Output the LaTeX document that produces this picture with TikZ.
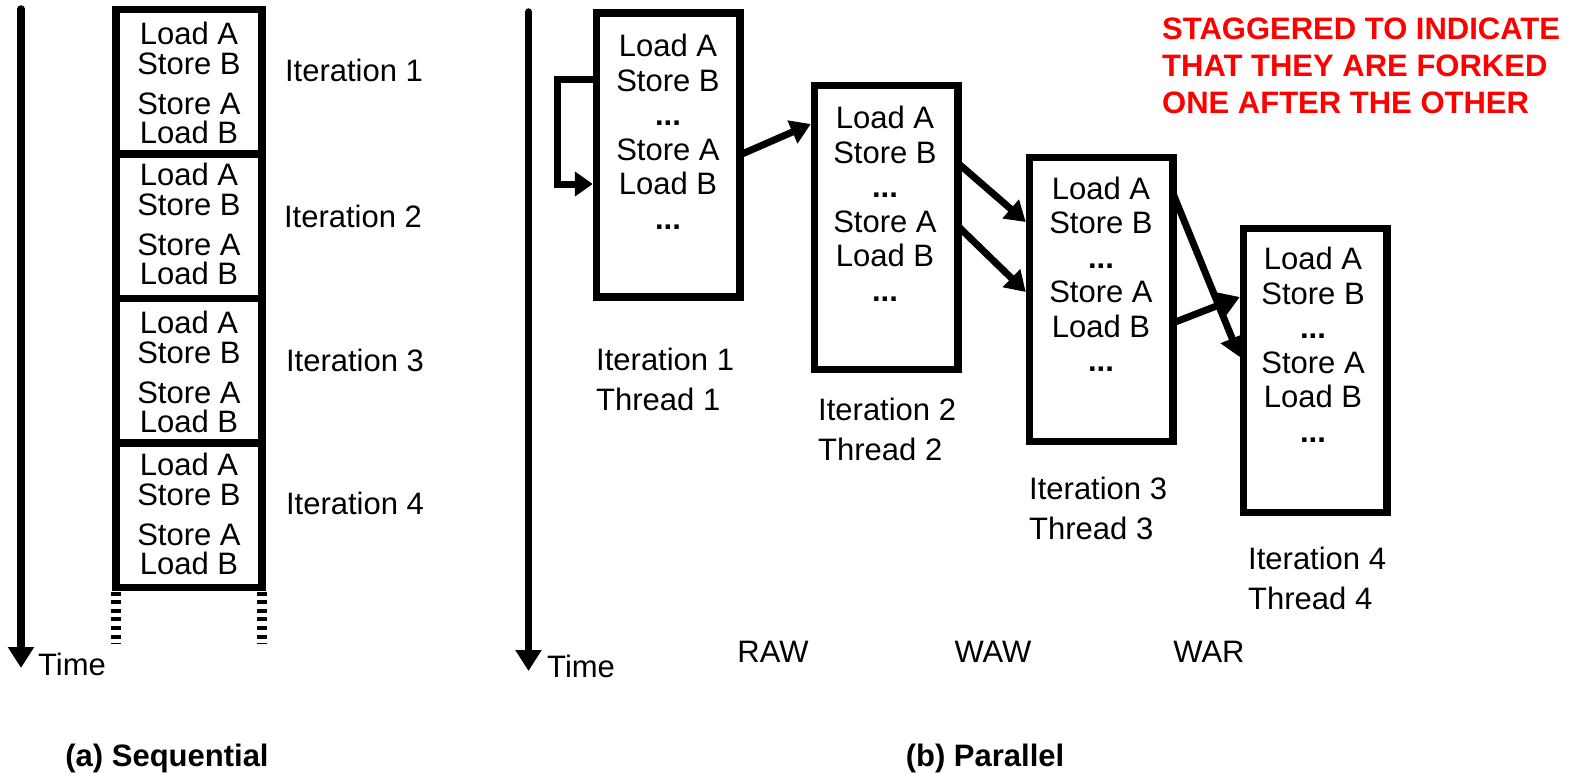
\documentclass[tikz,border=0pt]{standalone}
\usepackage{fontspec}
\setmainfont{Liberation Sans}
\usetikzlibrary{arrows.meta}
\begin{document}
\begin{tikzpicture}[x=1pt,y=-1pt,
  seqbox/.style={draw, line width=7.5pt, minimum width=146pt, minimum height=144.5pt, inner sep=0pt, outer sep=0pt},
  pbox/.style={draw, line width=7.5pt, minimum width=143.5pt, minimum height=284pt, inner sep=0pt, outer sep=0pt},
  seqtext/.style={font=\fontsize{31}{29.5}\selectfont, align=center, inner sep=0pt, anchor=north},
  ptext/.style={font=\fontsize{31}{34.5}\selectfont, align=center, inner sep=0pt, anchor=north},
  plain/.style={font=\fontsize{31}{37}\selectfont, inner sep=0pt},
  tlabel/.style={font=\fontsize{31}{39.5}\selectfont, align=left, inner sep=0pt, anchor=north west},
  note/.style={font=\fontsize{31}{36.75}\selectfont\bfseries, text=red, align=left, inner sep=0pt, anchor=north west},
  caption/.style={font=\fontsize{31}{37}\selectfont\bfseries, inner sep=0pt},
  flow/.style={line width=7pt, -{Triangle[length=20pt,width=24pt]}},
  timeline/.style={line width=7.5pt, line cap=round, -{Triangle[length=21pt,width=25pt]}},
  contd/.style={line width=10pt, dash pattern=on 4pt off 4.6pt}
]
\useasboundingbox (0,0) rectangle (1585,773);

% ---------- (a) sequential execution ----------
\coordinate (ta0) at (21,9);
\coordinate (ta1) at (21,668);
\draw[timeline] (ta0) -- (ta1);
\node[plain, anchor=west] (timea) at (38,664) {Time};

\node[seqbox] (s1) at (189,81.75) {};
\node[seqbox] (s2) at (189,226.25) {};
\node[seqbox] (s3) at (189,370.75) {};
\node[seqbox] (s4) at (189,515.25) {};

\node[seqtext] (s1t) at (189,22) {Load A\\Store B\\[10.5pt]Store A\\Load B};
\node[seqtext] (s2t) at (189,163) {Load A\\Store B\\[10.5pt]Store A\\Load B};
\node[seqtext] (s3t) at (189,311) {Load A\\Store B\\[10.5pt]Store A\\Load B};
\node[seqtext] (s4t) at (189,453) {Load A\\Store B\\[10.5pt]Store A\\Load B};

\draw[contd] ([yshift=-4pt]s4.south west) -- ++(0,52);
\draw[contd] ([yshift=-4pt]s4.south east) -- ++(0,52);

\node[plain] (it1) at (354,70) {Iteration 1};
\node[plain] (it2) at (353,216) {Iteration 2};
\node[plain] (it3) at (355,360) {Iteration 3};
\node[plain] (it4) at (355,503) {Iteration 4};

\node[caption] (capa) at (167,758) {(a) Sequential};

% ---------- (b) parallel execution ----------
\coordinate (tb0) at (528.5,12);
\coordinate (tb1) at (528.5,671);
\draw[timeline] (tb0) -- (tb1);
\node[plain, anchor=west] (timeb) at (547,666) {Time};

\node[pbox] (p1) at (668,155) {};
\node[pbox] (p2) at (886,227.5) {};
\node[pbox] (p3) at (1101,299.5) {};
\node[pbox] (p4) at (1315,370.5) {};

\node[ptext] (p1t) at (668,34) {Load A\\Store B\\\textbf{...}\\Store A\\Load B\\\textbf{...}};
\node[ptext] (p2t) at (885,106) {Load A\\Store B\\\textbf{...}\\Store A\\Load B\\\textbf{...}};
\node[ptext] (p3t) at (1101,176.5) {Load A\\Store B\\\textbf{...}\\Store A\\Load B\\\textbf{...}};
\node[ptext] (p4t) at (1313,247) {Load A\\Store B\\\textbf{...}\\Store A\\Load B\\\textbf{...}};

% dependences between the threads
\draw[flow, -{Triangle[length=18pt,width=24pt]}] ([yshift=75pt]p1.west) -- ++(-38.5,0) |- ([yshift=-29pt,xshift=-3.5pt]p1.west);
\draw[flow] (p1.east) -- ([yshift=103.5pt,xshift=-3.5pt]p2.west);
\draw[flow] ([yshift=64.5pt]p2.east) -- ([yshift=77.5pt,xshift=-3.5pt]p3.west);
\draw[flow] ([yshift=1.5pt]p2.east) -- ([yshift=7.5pt,xshift=-3.5pt]p3.west);
\draw[flow] ([yshift=106.5pt]p3.east) -- ([yshift=13.5pt,xshift=-3.5pt]p4.west);
\draw[flow] ([yshift=-23.5pt]p3.east) -- ([yshift=73.5pt,xshift=-3.5pt]p4.west);

\node[tlabel] (l1) at (596,348) {Iteration 1\\Thread 1};
\node[tlabel] (l2) at (818,398) {Iteration 2\\Thread 2};
\node[tlabel] (l3) at (1029,477) {Iteration 3\\Thread 3};
\node[tlabel] (l4) at (1248,547) {Iteration 4\\Thread 4};

\node[plain] (raw) at (773,652) {RAW};
\node[plain] (waw) at (993,652) {WAW};
\node[plain] (war) at (1209,652) {WAR};

\node[note] (note) at (1162,18) {STAGGERED TO INDICATE\\THAT THEY ARE FORKED\\ONE AFTER THE OTHER};

\node[caption] (capb) at (985,758) {(b) Parallel};
\end{tikzpicture}
\end{document}
